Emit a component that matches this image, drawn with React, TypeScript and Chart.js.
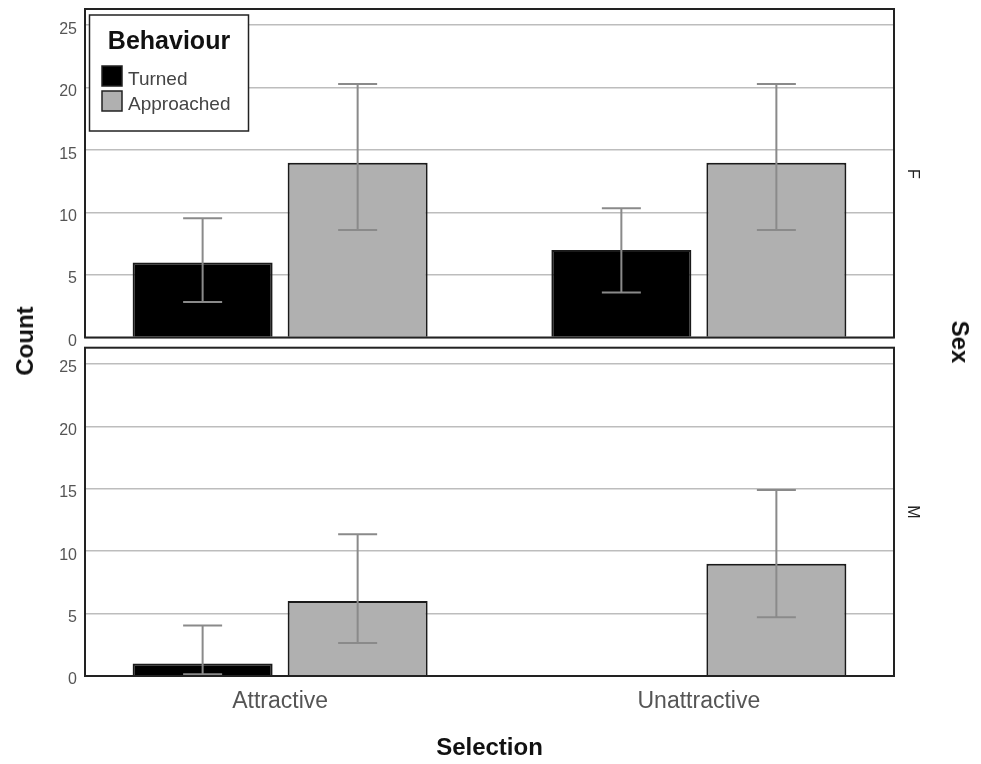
import React, { useEffect, useRef } from 'react';
import { Chart, registerables } from 'chart.js';

Chart.register(...registerables);

const categories = ['Attractive', 'Unattractive'];
const behaviours = ['Turned', 'Approached'];
const panelLabels = ['F', 'M'];
const legendTitle = 'Behaviour';
const xTitle = 'Selection';
const yTitle = 'Count';
const panelTitle = 'Sex';

const turnedF = [6, 7];
const approachedF = [14, 14];
const turnedM = [1, 0];
const approachedM = [6, 9];

const turnedFLow = [2.85, 3.6];
const turnedFHigh = [9.55, 10.35];
const approachedFLow = [8.6, 8.6];
const approachedFHigh = [20.3, 20.3];
const turnedMLow = [0.15, null];
const turnedMHigh = [4.05, null];
const approachedMLow = [2.65, 4.7];
const approachedMHigh = [11.35, 14.9];

const yTicks = [0, 5, 10, 15, 20, 25];
const yMax = 26.3;

const behaviourColors = ['#000000', '#b0b0b0'];
const FONT = '"Liberation Sans", Arial, Helvetica, sans-serif';

const errorBarPlugin = {
  id: 'errorBars',
  afterDatasetsDraw(chart: any) {
    const ctx = chart.ctx;
    const ys = chart.scales.y;
    chart.data.datasets.forEach((ds: any, di: number) => {
      const meta = chart.getDatasetMeta(di);
      meta.data.forEach((el: any, i: number) => {
        const lo = ds.errLow[i];
        const hi = ds.errHigh[i];
        if (lo == null || hi == null) return;
        const x = el.x;
        const yl = ys.getPixelForValue(lo);
        const yh = ys.getPixelForValue(hi);
        ctx.save();
        ctx.strokeStyle = '#8a8a8a';
        ctx.lineWidth = 2;
        ctx.beginPath();
        ctx.moveTo(x, yl);
        ctx.lineTo(x, yh);
        ctx.moveTo(x - 19.5, yl);
        ctx.lineTo(x + 19.5, yl);
        ctx.moveTo(x - 19.5, yh);
        ctx.lineTo(x + 19.5, yh);
        ctx.stroke();
        ctx.restore();
      });
    });
  },
};

const framePlugin = {
  id: 'frame',
  afterDraw(chart: any) {
    const { left, top, right, bottom } = chart.chartArea;
    const ctx = chart.ctx;
    ctx.save();
    ctx.strokeStyle = '#222';
    ctx.lineWidth = 2;
    ctx.strokeRect(left, top, right - left, bottom - top);
    ctx.restore();
  },
};

const legendPlugin = {
  id: 'boxLegend',
  afterDraw(chart: any) {
    if (!chart.options.plugins.boxLegend?.show) return;
    const ctx = chart.ctx;
    ctx.save();
    ctx.fillStyle = '#fff';
    ctx.fillRect(89.5, 15, 159, 116);
    ctx.strokeStyle = '#222';
    ctx.lineWidth = 1.5;
    ctx.strokeRect(89.5, 15, 159, 116);
    ctx.fillStyle = '#111';
    ctx.font = `bold 25px ${FONT}`;
    ctx.textAlign = 'center';
    ctx.textBaseline = 'alphabetic';
    ctx.fillText(legendTitle, 169, 48.5);
    chart.data.datasets.forEach((ds: any, i: number) => {
      const y0 = 66 + 25 * i;
      ctx.fillStyle = ds.backgroundColor;
      ctx.fillRect(102, y0, 20, 20);
      ctx.strokeStyle = '#222';
      ctx.lineWidth = 1.5;
      ctx.strokeRect(102, y0, 20, 20);
      ctx.fillStyle = '#444';
      ctx.font = `19px ${FONT}`;
      ctx.textAlign = 'left';
      ctx.fillText(ds.label, 128, y0 + 19);
    });
    ctx.restore();
  },
};

function makeConfig(
  turned: number[],
  approached: number[],
  lows: (number | null)[][],
  highs: (number | null)[][],
  showX: boolean,
  showLegend: boolean,
  padTop: number,
  padBottom: number
): any {
  const series = [turned, approached];
  return {
    type: 'bar',
    data: {
      datasets: behaviours.map((b, bi) => ({
        label: b,
        data: categories.map((_, ci) => ({ x: ci, y: series[bi][ci] })),
        backgroundColor: behaviourColors[bi],
        borderColor: '#1a1a1a',
        borderWidth: 2,
        categoryPercentage: 0.7404,
        barPercentage: 0.9032,
        errLow: lows[bi],
        errHigh: highs[bi],
      })),
    },
    options: {
      animation: false,
      responsive: false,
      devicePixelRatio: 1,
      layout: { padding: { left: 0, right: 87, top: padTop, bottom: padBottom } },
      plugins: {
        legend: { display: false },
        tooltip: { enabled: false },
        boxLegend: { show: showLegend },
      },
      scales: {
        x: {
          type: 'linear',
          display: showX,
          offset: false,
          min: -0.466,
          max: 1.466,
          afterBuildTicks: (s: any) => {
            s.ticks = categories.map((_, i) => ({ value: i }));
          },
          afterFit: (s: any) => {
            if (showX) s.height = 88;
            s.paddingLeft = 0;
            s.paddingRight = 0;
          },
          grid: { display: false, drawTicks: false, offset: false },
          border: { display: false },
          ticks: {
            autoSkip: false,
            maxRotation: 0,
            padding: 12,
            color: '#555',
            font: { family: FONT, size: 23 },
            callback: (v: any) => categories[v] ?? '',
          },
          title: {
            display: true,
            text: xTitle,
            color: '#111',
            font: { family: FONT, size: 24, weight: 'bold' },
            padding: { top: 0, bottom: 1 },
          },
        },
        y: {
          min: 0,
          max: yMax,
          afterBuildTicks: (s: any) => {
            s.ticks = yTicks.map((v) => ({ value: v }));
          },
          afterFit: (s: any) => {
            s.width = 85;
            s.paddingTop = 0;
            s.paddingBottom = 0;
          },
          grid: { color: '#bdbdbd', lineWidth: 1.5, drawTicks: false },
          border: { display: false },
          ticks: {
            padding: 8,
            labelOffset: 4,
            color: '#555',
            font: { family: FONT, size: 16 },
          },
        },
      },
    },
    plugins: [errorBarPlugin, framePlugin, legendPlugin],
  };
}

export default function App() {
  const topRef = useRef<HTMLCanvasElement>(null);
  const botRef = useRef<HTMLCanvasElement>(null);

  useEffect(() => {
    const top = new Chart(
      topRef.current as HTMLCanvasElement,
      makeConfig(
        turnedF,
        approachedF,
        [turnedFLow, approachedFLow],
        [turnedFHigh, approachedFHigh],
        false,
        true,
        9,
        8.5
      )
    );
    const bot = new Chart(
      botRef.current as HTMLCanvasElement,
      makeConfig(
        turnedM,
        approachedM,
        [turnedMLow, approachedMLow],
        [turnedMHigh, approachedMHigh],
        true,
        false,
        1.7,
        0
      )
    );
    return () => {
      top.destroy();
      bot.destroy();
    };
  }, []);

  const rot = (x: number, y: number, deg: number, size: number, bold: boolean, color: string): React.CSSProperties => ({
    position: 'absolute',
    left: x,
    top: y,
    transform: `translate(-50%, -50%) rotate(${deg}deg)`,
    fontFamily: FONT,
    fontSize: size,
    fontWeight: bold ? 'bold' : 'normal',
    color,
    lineHeight: 1,
    whiteSpace: 'nowrap',
  });

  return (
    <div style={{ position: 'absolute', left: 0, top: 0, width: 981, height: 764, background: '#fff', overflow: 'hidden' }}>
      <canvas ref={topRef} width={981} height={346} style={{ position: 'absolute', left: 0, top: 0 }} />
      <canvas ref={botRef} width={981} height={418} style={{ position: 'absolute', left: 0, top: 346 }} />
      <div style={rot(25, 341, -90, 24, true, '#111')}>{yTitle}</div>
      <div style={rot(960, 342, 90, 24, true, '#111')}>{panelTitle}</div>
      <div style={rot(912.5, 174, 90, 16, false, '#222')}>{panelLabels[0]}</div>
      <div style={rot(912.5, 511.5, 90, 16, false, '#222')}>{panelLabels[1]}</div>
    </div>
  );
}
